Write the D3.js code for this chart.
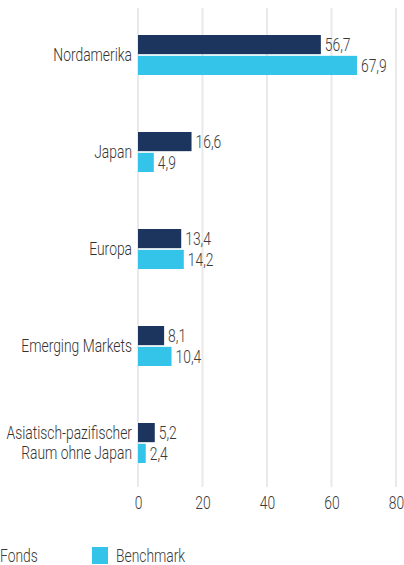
<!DOCTYPE html>
<html>
<head>
<meta charset="utf-8">
<script src="https://cdn.jsdelivr.net/npm/d3@7"></script>
<style>
  body { margin: 0; background: #fff; }
  svg text { font-family: "Roboto", "Liberation Sans", sans-serif; font-weight: 300; }
</style>
</head>
<body>
<svg width="404" height="565"></svg>
<script>
// Daten
const regions = ["Nordamerika", "Japan", "Europa", "Emerging Markets", "Asiatisch-pazifischer\nRaum ohne Japan"];
const fonds = [56.7, 16.6, 13.4, 8.1, 5.2];
const benchmark = [67.9, 4.9, 14.2, 10.4, 2.4];
const seriesNames = ["Fonds", "Benchmark"];
const xTicks = [0, 20, 40, 60, 80];

const colors = ["#1c355e", "#35c4e9"];
const narrow = 0.77; // schmale Schrift nachbilden

const svg = d3.select("svg");
const fmt = v => d3.format(".1f")(v).replace(".", ",");

// Hilfsfunktion: schmaler Text
function label(parent, px, py, str, anchor, fill) {
    return parent.append("text")
        .attr("transform", `translate(${px},${py}) scale(${narrow},1)`)
        .attr("text-anchor", anchor || "start")
        .attr("dy", "0.35em")
        .style("font-size", "18px")
        .attr("fill", fill || "#3a3a3a")
        .text(str);
}

const x = d3.scaleLinear().domain([0, 80]).range([138, 396]);
const y = d3.scaleBand().domain(regions).range([6.5, 491.5]).paddingInner(0).paddingOuter(0);
const sub = d3.scaleBand().domain(seriesNames).range([0, 40]).paddingInner(0.08);

const dataset = regions.map((r, i) => ({ region: r, values: [fonds[i], benchmark[i]] }));

// Gitternetz
svg.append("g")
    .selectAll("line")
    .data(xTicks)
    .enter().append("line")
    .attr("x1", d => x(d))
    .attr("x2", d => x(d))
    .attr("y1", 8)
    .attr("y2", 487)
    .attr("stroke", "#e9e9e9")
    .attr("stroke-width", 2);

// X-Achse (nur Beschriftung)
const xAxis = svg.append("g")
    .attr("transform", "translate(0,503)")
    .call(d3.axisBottom(x).tickValues(xTicks).tickSize(0).tickPadding(0));
xAxis.select(".domain").remove();
xAxis.selectAll("text").remove();
xAxis.selectAll(".tick").each(function (d) {
    label(d3.select(this), 0, 0, d, "middle");
});

// Balken
const groups = svg.append("g")
    .selectAll("g")
    .data(dataset)
    .enter().append("g")
    .attr("transform", d => `translate(0,${y(d.region) + y.bandwidth() / 2 - 20})`);

groups.selectAll("rect")
    .data(d => d.values.map((v, i) => ({ key: seriesNames[i], value: v })))
    .enter().append("rect")
    .attr("x", x(0))
    .attr("y", d => sub(d.key))
    .attr("width", d => x(d.value) - x(0))
    .attr("height", sub.bandwidth())
    .attr("fill", (d, i) => colors[i]);

groups.each(function (d) {
    const g = d3.select(this);
    d.values.forEach((v, i) => {
        const k = seriesNames[i];
        label(g, x(v) + 4, sub(k) + sub.bandwidth() / 2, fmt(v), "start");
    });
    // Kategorien
    const lines = d.region.split("\n");
    lines.forEach((l, i) => {
        label(g, 132, 20 - (lines.length - 1) * 10 + i * 20, l, "end", "#333");
    });
});

// Legende
const legend = svg.append("g").attr("transform", "translate(0,547)");
const legendX = [-24, 92];
seriesNames.forEach((s, i) => {
    const row = legend.append("g").attr("transform", `translate(${legendX[i]},0)`);
    row.append("rect")
        .attr("width", 16)
        .attr("height", 17)
        .attr("fill", colors[i]);
    label(row, 24, 9, s, "start");
});
</script>
</body>
</html>
